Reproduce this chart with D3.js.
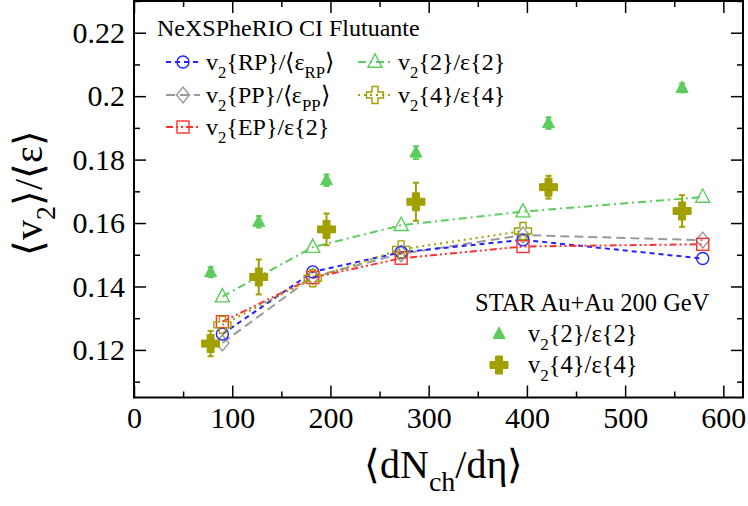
<!DOCTYPE html>
<html>
<head>
<meta charset="utf-8">
<script src="https://cdn.jsdelivr.net/npm/d3@7"></script>
<style>
body { margin: 0; background: #fff; }
svg text { font-family: "Liberation Serif", "Times New Roman", serif !important; fill: #000; }
</style>
</head>
<body>
<div id="chart"></div>
<script>
let CHART_WIDTH = 748;
let CHART_HEIGHT = 506;
let SERIF = "'Liberation Serif', 'Times New Roman', serif";

// NeXSPheRIO model points
var modelX = [90, 182, 272, 396, 579];
var rpY  = [0.1250, 0.1446, 0.1508, 0.1547, 0.1488];
var ppY  = [0.1222, 0.1431, 0.1503, 0.1562, 0.1546];
var epY  = [0.1289, 0.1428, 0.1489, 0.1526, 0.1533];
var v22Y = [0.1368, 0.1524, 0.1593, 0.1636, 0.1682];
var v44X = [90, 182, 272, 396];
var v44Y = [0.1279, 0.1426, 0.1517, 0.1575];

// STAR Au+Au 200 GeV
var starX    = [78, 127, 196, 287, 422, 558];
var star2Y   = [0.1445, 0.1604, 0.1735, 0.1822, 0.1915, 0.2026];
var star2Err = [0.0016, 0.0018, 0.0018, 0.0020, 0.0018, 0.0014];
var star4Y   = [0.1220, 0.1430, 0.1580, 0.1667, 0.1713, 0.1638];
var star4Err = [0.0040, 0.0055, 0.0050, 0.0060, 0.0036, 0.0050];

var xMajor = [0, 100, 200, 300, 400, 500, 600];
var xMinor = [50, 150, 250, 350, 450, 550];
var yMajor = [0.12, 0.14, 0.16, 0.18, 0.2, 0.22];
var yMinor = [0.11, 0.13, 0.15, 0.17, 0.19, 0.21, 0.23];

var colors = {
	rp: "#2222ff",
	pp: "#999999",
	ep: "#ff3030",
	v22: "#5ccc5c",
	v44: "#a0a000"
};

var svg = d3.select("#chart").append("svg")
	.attr("width", CHART_WIDTH)
	.attr("height", CHART_HEIGHT)
	.attr("font-family", SERIF);

var x = d3.scaleLinear().domain([0, 620]).range([134, 743]);
var y = d3.scaleLinear().domain([0.105, 0.23]).range([397.5, 1]);

// axes: ticks point inward on all four sides
function styleAxis(g) {
	g.attr("font-family", SERIF);
	g.select(".domain").remove();
	g.selectAll(".tick line").attr("stroke", "#000").attr("stroke-width", 1.5);
	g.selectAll(".tick text")
		.style("font-family", SERIF)
		.style("font-size", "30px").attr("fill", "#000");
}
svg.append("g").attr("transform", "translate(0,397.5)")
	.call(d3.axisBottom(x).tickValues(xMajor).tickSize(-12).tickPadding(9).tickFormat(d3.format("d")))
	.call(styleAxis);
svg.append("g").attr("transform", "translate(0,397.5)")
	.call(d3.axisBottom(x).tickValues(xMinor).tickSize(-6).tickFormat(""))
	.call(styleAxis);
svg.append("g").attr("transform", "translate(0,1)")
	.call(d3.axisTop(x).tickValues(xMajor).tickSize(-12).tickFormat(""))
	.call(styleAxis);
svg.append("g").attr("transform", "translate(0,1)")
	.call(d3.axisTop(x).tickValues(xMinor).tickSize(-6).tickFormat(""))
	.call(styleAxis);
svg.append("g").attr("transform", "translate(134,0)")
	.call(d3.axisLeft(y).tickValues(yMajor).tickSize(-12).tickPadding(9).tickFormat(d => String(+d.toFixed(2))))
	.call(styleAxis);
svg.append("g").attr("transform", "translate(134,0)")
	.call(d3.axisLeft(y).tickValues(yMinor).tickSize(-6).tickFormat(""))
	.call(styleAxis);
svg.append("g").attr("transform", "translate(743,0)")
	.call(d3.axisRight(y).tickValues(yMajor).tickSize(-12).tickFormat(""))
	.call(styleAxis);
svg.append("g").attr("transform", "translate(743,0)")
	.call(d3.axisRight(y).tickValues(yMinor).tickSize(-6).tickFormat(""))
	.call(styleAxis);

svg.append("rect")
	.attr("x", 134).attr("y", 1)
	.attr("width", 743 - 134).attr("height", 397.5 - 1)
	.attr("fill", "none").attr("stroke", "#000").attr("stroke-width", 2);

// rich text with subscripts
function richText(parent, px, py, size, parts) {
	var t = parent.append("text").attr("x", px).attr("y", py)
		.style("font-family", SERIF).style("font-size", size + "px");
	var shift = 0;
	parts.forEach(function (p) {
		var sub = typeof p !== "string";
		var target = sub ? Math.round(size * 0.33) : 0;
		t.append("tspan")
			.attr("dy", target - shift)
			.style("font-size", (sub ? size * 0.7 : size) + "px")
			.text(sub ? p.s : p);
		shift = target;
	});
	return t;
}

// markers
function marker(g, type, cx, cy, color, filled) {
	var s;
	if (type == "circle") {
		s = g.append("circle").attr("cx", cx).attr("cy", cy).attr("r", 6);
	} else if (type == "diamond") {
		s = g.append("path").attr("d", `M${cx},${cy - 8}L${cx + 6.5},${cy}L${cx},${cy + 8}L${cx - 6.5},${cy}Z`);
	} else if (type == "square") {
		s = g.append("rect").attr("x", cx - 6).attr("y", cy - 6).attr("width", 12).attr("height", 12);
	} else if (type == "triangle") {
		var h = filled ? 6 : 7;
		s = g.append("path").attr("d", `M${cx},${cy - h * 1.15}L${cx + h},${cy + h * 0.75}L${cx - h},${cy + h * 0.75}Z`);
	} else if (type == "cross") {
		var a = filled ? 3.5 : 3, b = filled ? 9 : 8.5;
		s = g.append("path").attr("d",
			`M${cx - a},${cy - b}H${cx + a}V${cy - a}H${cx + b}V${cy + a}H${cx + a}V${cy + b}H${cx - a}V${cy + a}H${cx - b}V${cy - a}H${cx - a}Z`);
	}
	s.attr("fill", filled ? color : "none")
		.attr("stroke", color)
		.attr("stroke-width", filled ? 1 : 1.4);
	return s;
}

var plot = svg.append("g");

var modelSeries = [
	{ xs: modelX, ys: v22Y, color: colors.v22, dash: "8,4,2,4", sym: "triangle" },
	{ xs: modelX, ys: ppY, color: colors.pp, dash: "9,5", sym: "diamond" },
	{ xs: modelX, ys: rpY, color: colors.rp, dash: "5,4", sym: "circle" },
	{ xs: modelX, ys: epY, color: colors.ep, dash: "7,3,2,3,2,3", sym: "square" },
	{ xs: v44X, ys: v44Y, color: colors.v44, dash: "2,4", sym: "cross" }
];

var line = d3.line().x(d => x(d[0])).y(d => y(d[1]));

modelSeries.forEach(function (s) {
	var pts = s.xs.map((v, i) => [v, s.ys[i]]);
	plot.append("path")
		.attr("d", line(pts))
		.attr("fill", "none")
		.attr("stroke", s.color)
		.attr("stroke-width", 2)
		.attr("stroke-dasharray", s.dash);
});
modelSeries.forEach(function (s) {
	s.xs.forEach(function (v, i) {
		marker(plot, s.sym, x(v), y(s.ys[i]), s.color, false);
	});
});

// STAR data with error bars
function errorBars(ys, errs, color) {
	starX.forEach(function (v, i) {
		var cx = x(v);
		var y0 = y(ys[i] - errs[i]), y1 = y(ys[i] + errs[i]);
		plot.append("line").attr("x1", cx).attr("x2", cx).attr("y1", y0).attr("y2", y1)
			.attr("stroke", color).attr("stroke-width", 2);
		[y0, y1].forEach(function (yy) {
			plot.append("line").attr("x1", cx - 3).attr("x2", cx + 3).attr("y1", yy).attr("y2", yy)
				.attr("stroke", color).attr("stroke-width", 2);
		});
	});
}
errorBars(star2Y, star2Err, colors.v22);
errorBars(star4Y, star4Err, colors.v44);
starX.forEach(function (v, i) {
	marker(plot, "triangle", x(v), y(star2Y[i]), colors.v22, true);
	marker(plot, "cross", x(v), y(star4Y[i]), colors.v44, true);
});

// legend: model
var leg = svg.append("g");
leg.append("text").attr("x", 157).attr("y", 36)
	.style("font-family", SERIF).style("font-size", "24px").text("NeXSPheRIO CI Flutuante");

function legendRow(lx, ly, s, parts) {
	leg.append("line").attr("x1", lx - 17).attr("x2", lx + 17).attr("y1", ly).attr("y2", ly)
		.attr("stroke", s.color).attr("stroke-width", 2).attr("stroke-dasharray", s.dash);
	marker(leg, s.sym, lx, ly, s.color, false);
	richText(leg, lx + 23, ly + 8, 24, parts);
}
legendRow(183, 62, modelSeries[2], ["v", { s: "2" }, "{RP}/\u27E8\u03B5", { s: "RP" }, "\u27E9"]);
legendRow(183, 95, modelSeries[1], ["v", { s: "2" }, "{PP}/\u27E8\u03B5", { s: "PP" }, "\u27E9"]);
legendRow(183, 127, modelSeries[3], ["v", { s: "2" }, "{EP}/\u03B5{2}"]);
legendRow(375, 62, modelSeries[0], ["v", { s: "2" }, "{2}/\u03B5{2}"]);
legendRow(375, 95, modelSeries[4], ["v", { s: "2" }, "{4}/\u03B5{4}"]);

// legend: STAR
leg.append("text").attr("x", 475).attr("y", 311)
	.style("font-family", SERIF).style("font-size", "24.5px").text("STAR Au+Au 200 GeV");
marker(leg, "triangle", 499, 334, colors.v22, true);
richText(leg, 528, 342, 24.5, ["v", { s: "2" }, "{2}/\u03B5{2}"]);
marker(leg, "cross", 499, 365, colors.v44, true);
richText(leg, 528, 373, 24.5, ["v", { s: "2" }, "{4}/\u03B5{4}"]);

// axis titles
richText(svg, 364, 478, 40, ["\u27E8dN", { s: "ch" }, "/d\u03B7\u27E9"]);
var yt = richText(svg, 0, 0, 40, ["\u27E8v", { s: "2" }, "\u27E9/\u27E8\u03B5\u27E9"]);
yt.attr("transform", "translate(42,256) rotate(-90)");
</script>
</body>
</html>
